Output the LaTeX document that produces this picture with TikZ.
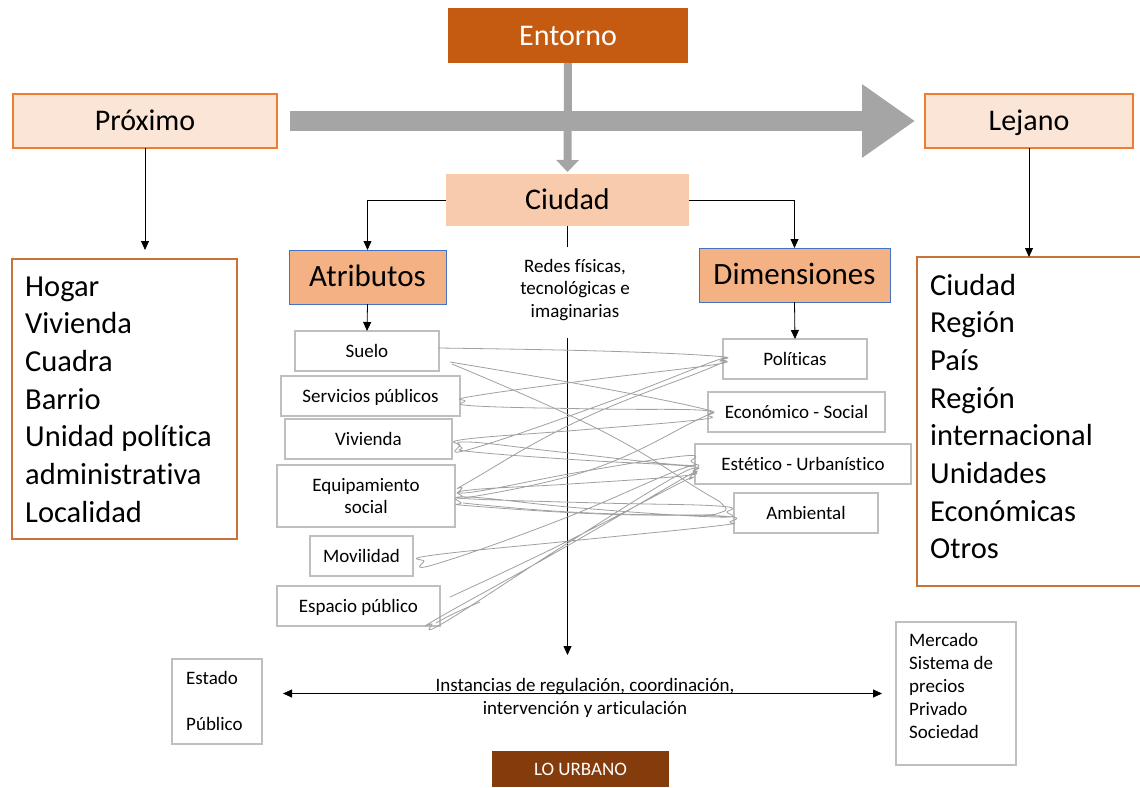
\documentclass[tikz,border=0pt]{standalone}
\usepackage{fontspec}
\setmainfont{Carlito}[Ligatures=NoCommon]
\usetikzlibrary{arrows.meta}

\definecolor{entornoC}{HTML}{C55A11}
\definecolor{peach}{HTML}{FBE5D6}
\definecolor{peachLine}{HTML}{ED7D31}
\definecolor{ciudadC}{HTML}{F8CBAD}
\definecolor{attrC}{HTML}{F4B183}
\definecolor{blueLine}{HTML}{4472C4}
\definecolor{listLine}{HTML}{C9733A}
\definecolor{boxGray}{HTML}{BFBFBF}
\definecolor{arrowGray}{HTML}{A5A5A5}
\definecolor{urbanoC}{HTML}{843C0C}
\definecolor{scribbleC}{HTML}{A0A0A0}

\tikzset{
  box/.style={rectangle, inner sep=0pt, outer sep=0pt, align=center},
  bigtxt/.style={font=\fontsize{30}{36}\selectfont, text height=19pt, text depth=0pt},
  midtxt/.style={font=\fontsize{31}{37}\selectfont, text height=19.6pt, text depth=0pt},
  smalltxt/.style={font=\fontsize{19}{22.5}\selectfont},
  smallcap/.style={smalltxt, text height=12pt, text depth=0pt},
  listtxt/.style={font=\fontsize{30.5}{37.7}\selectfont, inner sep=0pt, anchor=base west},
  linetxt/.style={smalltxt, inner sep=0pt, anchor=base west},
  graybox/.style={box, draw=boxGray, line width=1.3pt},
  peachbox/.style={box, bigtxt, fill=peach, draw=peachLine, line width=1.2pt},
  attrbox/.style={box, midtxt, fill=attrC, draw=blueLine, line width=1pt},
  listbox/.style={box, draw=listLine, line width=1.3pt},
  conn/.style={draw=black, line width=0.8pt, -{Triangle[length=9pt,width=8pt]}},
  conn2/.style={draw=black, line width=0.8pt, {Triangle[length=9pt,width=8pt]}-{Triangle[length=9pt,width=8pt]}},
  plain/.style={draw=black, line width=0.8pt},
  scribble/.style={draw=scribbleC, line width=0.8pt},
}

\begin{document}
\begin{tikzpicture}[x=1pt, y=-1pt]
\useasboundingbox (0,0) rectangle (1140,787);
\fill[white] (0,0) rectangle (1140,787);

% --- upper row -------------------------------------------------------
\node[box, bigtxt, fill=entornoC, text=white, minimum width=240pt, minimum height=55pt] (entorno) at (568,35.5) {Entorno};
\node[peachbox, minimum width=264pt, minimum height=54pt] (prox) at (145,121) {Próximo};
\node[peachbox, minimum width=208pt, minimum height=54pt] (lej) at (1029,121) {Lejano};
\node[box, bigtxt, fill=ciudadC, minimum width=243pt, minimum height=52pt] (ciudad) at (567.5,200) {Ciudad};

% broad grey arrows
\draw[line width=20pt, arrowGray, -{Triangle[length=53pt,width=70pt]}]
  ([xshift=13pt]prox.east) -- ([xshift=-10pt]lej.west);
\draw[line width=8pt, arrowGray, -{Triangle[length=12pt,width=22pt]}]
  (entorno.south) -- ([yshift=2pt]ciudad.north);

% --- attributes and dimensions ----------------------------------------
\node[attrbox, minimum width=157pt, minimum height=54pt] (atr) at (367.5,277) {Atributos};
\node[attrbox, minimum width=191pt, minimum height=54pt] (dim) at (794.5,275) {Dimensiones};

\draw[conn] (ciudad.west) -| (atr.north);
\draw[conn] (ciudad.east) -| (dim.north);

\node[graybox, smallcap, minimum width=144pt, minimum height=40pt] (suelo) at (367,351) {Suelo};
\node[graybox, smallcap, minimum width=179pt, minimum height=40pt] (serv) at (370.5,396) {Servicios públicos};
\node[graybox, smallcap, minimum width=167pt, minimum height=40pt] (viv) at (368.5,439) {Vivienda};
\node[graybox, smalltxt, minimum width=178pt, minimum height=62pt] (equip) at (366,496) {Equipamiento\\social};
\node[graybox, smallcap, minimum width=103pt, minimum height=40pt] (movil) at (361.5,556) {Movilidad};
\node[graybox, smallcap, minimum width=163pt, minimum height=40pt] (espacio) at (358.5,606) {Espacio público};

\node[graybox, smallcap, minimum width=144pt, minimum height=40pt] (polit) at (795,359) {Políticas};
\node[graybox, smallcap, minimum width=177pt, minimum height=40pt] (econ) at (796.5,412) {Económico - Social};
\node[graybox, smallcap, minimum width=216pt, minimum height=40pt] (estet) at (803,464) {Estético - Urbanístico};
\node[graybox, smallcap, minimum width=144pt, minimum height=40pt] (amb) at (806,513) {Ambiental};

\draw[conn] (atr.south) -- (suelo.north);
\draw[conn] (dim.south) -- (polit.north);

% --- central axis -------------------------------------------------------
\node[box, smalltxt] (redes) at (575,290) {Redes físicas,\\tecnológicas e\\imaginarias};
\coordinate (redesTop) at (567.5,247);
\coordinate (redesBot) at (567.5,338);
\coordinate (axisEnd) at (567.5,655);
\draw[plain] (ciudad.south) -- (redesTop);
\draw[conn] (redesBot) -- (axisEnd);

% --- tangle of links between attributes and dimensions -----------------
\draw[scribble] plot[smooth, tension=0.75] coordinates {
  (438,348) (600,351) (714,356) (722,360) (712,365)
  (590,380) (474,396) (465,401) (476,406)
  (600,409) (698,410) (708,415) (697,420)
  (580,430) (467,439) (460,445) (471,449)
  (600,405) (712,362) (720,361) (710,368)
  (580,420) (472,480) (462,488) (473,492)
  (580,472) (683,456) (691,461) (681,465)
  (560,452) (469,442) (462,448) (474,452)
  (580,460) (686,466) (693,471) (682,476)
  (570,484) (470,490) (462,496) (472,499)
  (600,503) (718,506) (727,512) (716,517)
  (580,508) (469,497) (461,503) (472,506)
  (600,514) (722,516) (730,522) (716,526)
  (580,540) (434,555) (424,561) (436,564)
  (560,520) (684,468) (692,474) (682,479)
  (560,550) (440,617) (432,624) (445,622)
  (560,548) (680,474) (689,479) (678,484)
  (560,545) (450,597)};
\draw[scribble] plot[smooth, tension=0.75] coordinates {
  (450,362) (590,386) (700,408) (709,414) (699,419) (590,470) (464,498)};
\draw[scribble] plot[smooth, tension=0.75] coordinates {
  (452,364) (600,430) (700,490) (722,504) (722,512) (690,515) (570,512)
  (463,503)};
\draw[scribble] plot[smooth, tension=0.75] coordinates {
  (480,602) (455,613) (436,623)};

% --- scale lists ---------------------------------------------------------
\node[listbox, minimum width=225pt, minimum height=280pt] (hogarbox) at (124.5,399) {};
\foreach \t [count=\i] in {Hogar, Vivienda, Cuadra, Barrio, Unidad política, administrativa, Localidad}
  \node[listtxt] (near\i) at (25,{296+37.7*(\i-1)}) {\t};

\node[listbox, minimum width=233pt, minimum height=329pt] (lejbox) at (1033.5,421.5) {};
\foreach \t [count=\i] in {Ciudad, Región, País, Región, internacional, Unidades, Económicas, Otros}
  \node[listtxt] (far\i) at (930,{295+37.7*(\i-1)}) {\t};

\draw[conn] (prox.south) -- ([yshift=9pt]prox.south |- hogarbox.north);
\draw[conn] (lej.south) -- (lej.south |- lejbox.north);

% --- bottom: state and market ----------------------------------------------
\node[graybox, minimum width=90pt, minimum height=85pt] (estado) at (217,701.5) {};
\node[linetxt] (estado1) at (186,684) {Estado};
\node[linetxt] (estado2) at (186,730) {Público};

\node[graybox, minimum width=120pt, minimum height=143pt] (mercado) at (956,693.5) {};
\foreach \t [count=\i] in {Mercado, Sistema de, precios, Privado, Sociedad}
  \node[linetxt] (merc\i) at (909,{646+23*(\i-1)}) {\t};

\draw[conn2] ([xshift=21pt]estado.east |- mercado.west) -- ([xshift=-14pt]mercado.west);
\node[box, smalltxt] (inst) at (585,698) {Instancias de regulación, coordinación,\\intervención y articulación};

\node[box, smallcap, fill=urbanoC, text=white, minimum width=177pt, minimum height=36pt] (urbano) at (580.5,769) {LO URBANO};

\end{tikzpicture}
\end{document}
